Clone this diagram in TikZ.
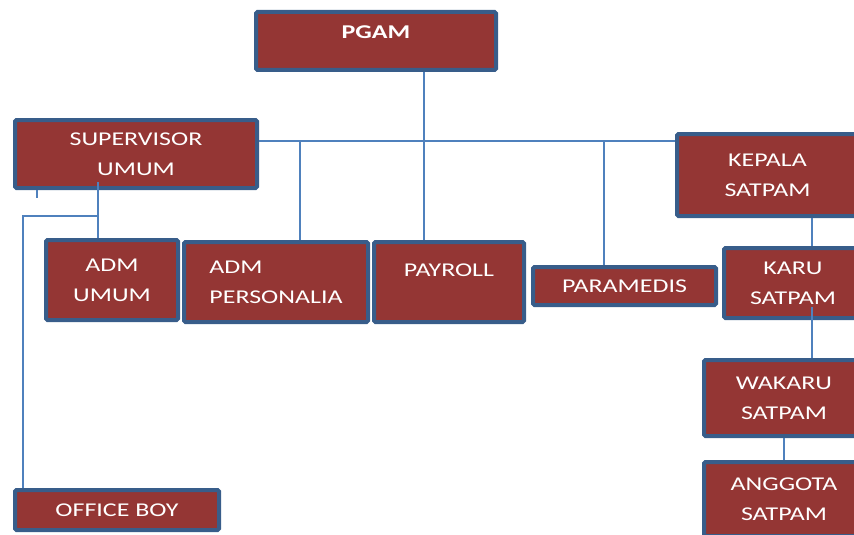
\documentclass[tikz,border=0pt]{standalone}
\usepackage{fontspec}
\setmainfont[FakeStretch=1.33]{Carlito}
\definecolor{boxc}{HTML}{943634}
\definecolor{bordc}{HTML}{385D8A}
\definecolor{linec}{HTML}{4F81BD}
\begin{document}
\begin{tikzpicture}[x=1pt,y=-1pt,
  box/.style={draw=bordc, line width=4pt, fill=boxc, rounded corners=1.5pt,
    text=white, font=\fontsize{19.5}{30}\selectfont, align=center, inner sep=0pt},
  conn/.style={draw=linec, line width=1.5pt}]
\useasboundingbox (0,0) rectangle (854,535);
% connectors behind boxes
\coordinate (jp) at (424,141);
\coordinate (ja) at (300,141);
\coordinate (jm) at (604,141);
\coordinate (sv) at (98,182);
\coordinate (sk) at (98,216);
\coordinate (so) at (23,216);
\coordinate (st) at (37,190);
\coordinate (sb) at (37,198);
\coordinate (kv) at (812,218);
\coordinate (kr) at (812,307);
\coordinate (wv) at (784,438);

\node[box, minimum width=240pt, minimum height=58pt] (pgam) at (376,41) {\raisebox{2.7pt}[0pt][0pt]{\bfseries PGAM}};
\node[box, minimum width=242pt, minimum height=68pt] (sup) at (136,154) {SUPERVISOR\\UMUM};
\node[box, minimum width=132pt, minimum height=80pt] (admu) at (112,280) {ADM\\UMUM};
\node[box, minimum width=184pt, minimum height=80pt, align=left] (admp) at (276,282) {ADM\\PERSONALIA};
\node[box, minimum width=150pt, minimum height=80pt] (pay) at (449,282) {\raisebox{5.7pt}[0pt][0pt]{PAYROLL}};
\node[box, minimum width=183pt, minimum height=38pt] (para) at (624.5,286) {PARAMEDIS};
\node[box, minimum width=181pt, minimum height=82pt] (kep) at (767.5,175) {KEPALA\\SATPAM};
\node[box, minimum width=138pt, minimum height=70pt] (karu) at (793,283) {KARU\\SATPAM};
\node[box, minimum width=160pt, minimum height=76pt] (wak) at (784,398) {WAKARU\\SATPAM};
\node[box, minimum width=160pt, minimum height=74pt] (ang) at (784,499) {ANGGOTA\\SATPAM};
\node[box, minimum width=204pt, minimum height=40pt] (ob) at (117,510) {OFFICE BOY};

\draw[conn] (jp |- pgam.south) -- (jp |- pay.north);
\draw[conn] (jp -| sup.east) -- (jp -| kep.west);
\draw[conn] (ja) -- (ja |- admp.north);
\draw[conn] (jm) -- (jm |- para.north);
\draw[conn] (sv) -- (sv |- admu.north);
\draw[conn] (sk) -- (so) -- (so |- ob.north);
\draw[conn] (st) -- (sb);
\draw[conn] (kv |- kep.south) -- (kv |- karu.north);
\draw[conn] (kr) -- (kr |- wak.north);
\draw[conn] (wv |- wak.south) -- (wv |- ang.north);
\end{tikzpicture}
\end{document}
